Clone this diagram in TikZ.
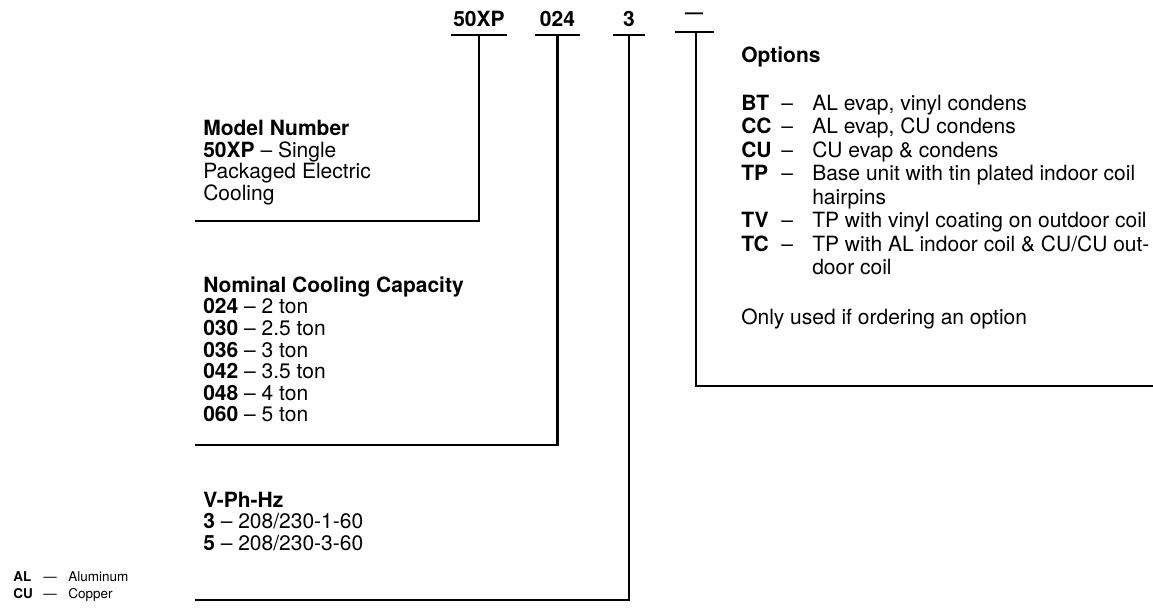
\documentclass[tikz,border=0pt]{standalone}
\usepackage{fontspec}
\setmainfont{TeX Gyre Heros}
\usetikzlibrary{positioning}

% one row of the option list: code, dash, text
\newcommand{\optline}[2]{\makebox[40pt][l]{\textbf{#1}}\makebox[31pt][l]{--}#2}
\newcommand{\optmore}[1]{\hspace*{71pt}#1}
% one row of the abbreviations
\newcommand{\abbrline}[2]{\makebox[30pt][l]{\textbf{#1}}\makebox[25pt][l]{---}#2}

\begin{document}
\begin{tikzpicture}[
            x = 1pt, y = -1pt, % one unit is one pixel, y going down
            line width = 2.6pt, % heavy rules
            every node/.style = {inner sep = 0pt},
            digit/.style = {font = \fontsize{21}{24}\selectfont\bfseries, anchor = base},
            block/.style = {font = \fontsize{21}{21.6}\selectfont, align = left, anchor = north west},
            optblock/.style = {block, font = \fontsize{21}{23.5}\selectfont},
            legend/.style = {block, font = \fontsize{13.5}{17}\selectfont}
        ]

        \useasboundingbox (0,0) rectangle (1153,608);

        % the model number, one group at a time
        \node[digit] (series) at (479,26.5) {50XP};
        \node[digit] (size) at (557.5,26.5) {024};
        \node[digit] (volt) at (629,26.5) {3};
        \node[digit, anchor = center, font = \fontsize{18}{20}\selectfont\bfseries] (opt) at (694,16) {---};

        % bars under the groups
        \coordinate (b1) at ([yshift=-8.5pt]series.base);
        \coordinate (b2) at ([yshift=-8.5pt]size.base);
        \coordinate (b3) at ([yshift=-8.5pt]volt.base);
        \coordinate (b4) at (696,32);

        % free ends of the leaders
        \coordinate (e1) at (195,221);
        \coordinate (e2) at (195,445);
        \coordinate (e3) at (195,600);
        \coordinate (e4) at (1153,386);

        \draw ([xshift=-28pt]b1) -- ([xshift=28pt]b1);
        \draw ([xshift=-22.5pt]b2) -- ([xshift=22.5pt]b2);
        \draw ([xshift=-16pt]b3) -- ([xshift=16pt]b3);
        \draw ([xshift=-21pt]b4) -- ([xshift=18pt]b4);

        \draw (b1) |- (e1);
        \draw (b2) |- (e2);
        \draw (b3) |- (e3);
        \draw (b4) |- (e4);

        % what each group means
        \node[block] (model) at (202,119) {\textbf{Model Number}\\\textbf{50XP} -- Single\\Packaged Electric\\Cooling};
        \node[block] (capacity) at (202,275.4) {\textbf{Nominal Cooling Capacity}\\
            \textbf{024} -- 2 ton\\\textbf{030} -- 2.5 ton\\\textbf{036} -- 3 ton\\
            \textbf{042} -- 3.5 ton\\\textbf{048} -- 4 ton\\\textbf{060} -- 5 ton};
        \node[block] (power) at (202,490.4) {\textbf{V-Ph-Hz}\\\textbf{3} -- 208/230-1-60\\\textbf{5} -- 208/230-3-60};
        \node[legend] (abbr) at (12,570) {\abbrline{AL}{Aluminum}\\\abbrline{CU}{Copper}};

        \node[optblock] (options) at (740,45.5) {\textbf{Options}};
        \node[optblock] (codes) at (740,93.4) {\optline{BT}{AL evap, vinyl condens}\\
            \optline{CC}{AL evap, CU condens}\\
            \optline{CU}{CU evap \& condens}\\
            \optline{TP}{Base unit with tin plated indoor coil}\\
            \optmore{hairpins}\\
            \optline{TV}{TP with vinyl coating on outdoor coil}\\
            \optline{TC}{TP with AL indoor coil \& CU/CU out-}\\
            \optmore{door coil}};
        \node[optblock] (note) at (740,307.4) {Only used if ordering an option};
    \end{tikzpicture}
\end{document}
